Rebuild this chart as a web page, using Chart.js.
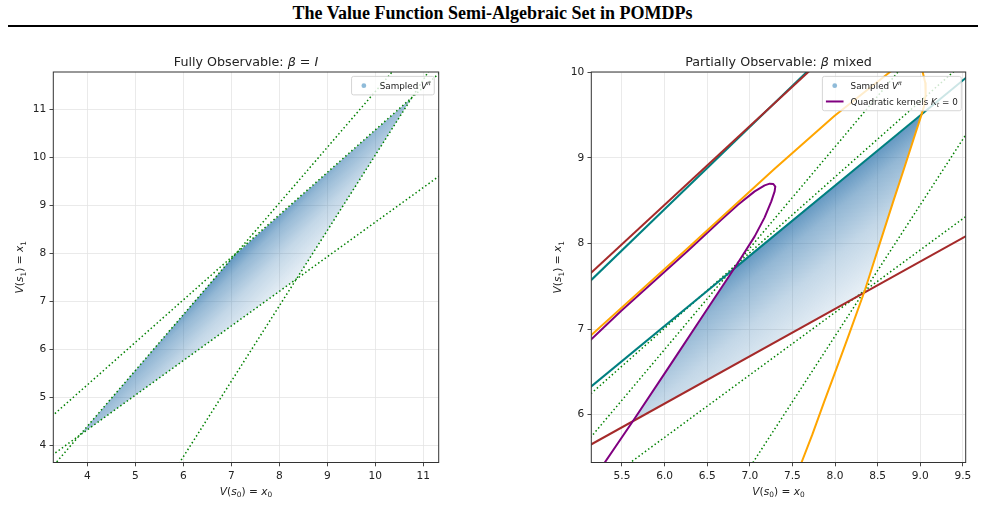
<!DOCTYPE html>
<html><head><meta charset="utf-8">
<script src="https://cdn.jsdelivr.net/npm/chart.js@4.4.1/dist/chart.umd.min.js"></script>
<style>
html,body{margin:0;padding:0;background:#fff;width:985px;height:523px;overflow:hidden;}
#title{position:absolute;left:0;top:3px;width:985px;text-align:center;font:bold 18px "Liberation Serif","Times New Roman",serif;color:#000;line-height:20px;}
#rule{position:absolute;left:8px;top:25px;width:970px;height:2px;background:#000;}
.wrap{position:absolute;top:40px;}
canvas{display:block;}
</style></head><body>
<div id="title">The Value Function Semi-Algebraic Set in POMDPs</div>
<div id="rule"></div>
<div class="wrap" style="left:0;width:480px;height:470px"><canvas id="c1" width="480" height="470"></canvas></div>
<div class="wrap" style="left:530px;width:455px;height:470px"><canvas id="c2" width="455" height="470"></canvas></div>
<script>
// ================= DATA =================
// ---- left panel: fully observable ----
const leftXTicks = [4, 5, 6, 7, 8, 9, 10, 11];
const leftXTickLabels = ['4', '5', '6', '7', '8', '9', '10', '11'];
const leftYTicks = [4, 5, 6, 7, 8, 9, 10, 11];
const leftYTickLabels = ['4', '5', '6', '7', '8', '9', '10', '11'];
const leftXRange = [3.292, 11.321];
const leftYRange = [3.641, 11.786];
// sampled value-function region (vertices A, B, C, D)
const leftCloudX = [3.836, 7.06, 10.76, 8.36, 3.836];
const leftCloudY = [4.204, 7.956, 11.25, 7.47, 4.204];
// dotted boundary hyperplanes (end points)
const leftLine1X = [3.2, 11.4];   const leftLine1Y = [4.55, 11.82];
const leftLine2X = [3.2, 11.4];   const leftLine2Y = [3.745, 9.665];
const leftLine3X = [3.2, 10.405]; const leftLine3Y = [3.464, 11.85];
const leftLine4X = [5.866, 11.143]; const leftLine4Y = [3.55, 11.85];

// ---- right panel: partially observable ----
const rightXTicks = [5.5, 6.0, 6.5, 7.0, 7.5, 8.0, 8.5, 9.0, 9.5];
const rightXTickLabels = ['5.5', '6.0', '6.5', '7.0', '7.5', '8.0', '8.5', '9.0', '9.5'];
const rightYTicks = [6, 7, 8, 9, 10];
const rightYTickLabels = ['6', '7', '8', '9', '10'];
const rightXRange = [5.140, 9.533];
const rightYRange = [5.441, 10.005];
// sampled region: A', purple edge, B', C', orange edge, D', A'
const rightCloudX = [5.629, 6.079, 6.470, 6.839, 9.012, 8.938, 8.812, 8.683, 8.558, 8.433, 8.342, 5.629];
const rightCloudY = [5.926, 6.600, 7.188, 7.743, 9.508, 9.272, 8.883, 8.493, 8.104, 7.714, 7.430, 5.926];
// straight linear kernels
const brownUpperX = [5.10, 7.735];  const brownUpperY = [7.623, 10.05];
const tealUpperX  = [5.10, 7.714];  const tealUpperY  = [7.536, 10.05];
const tealMidX    = [5.10, 9.58];   const tealMidY    = [6.298, 9.974];
const brownLowerX = [5.10, 9.58];   const brownLowerY = [5.631, 8.111];
// orange conic (two visible branches)
const orangeLeftX  = [5.10, 5.140, 6.274, 7.291, 7.995, 8.347, 8.644, 8.70];
const orangeLeftY  = [6.895, 6.931, 7.948, 8.875, 9.494, 9.771, 10.005, 10.05];
const orangeRightX = [9.017, 9.028, 9.059, 9.063, 9.043, 9.012, 8.938, 8.812, 8.683, 8.558, 8.433, 8.351, 8.163, 8.019, 7.874, 7.733, 7.604, 7.59];
const orangeRightY = [10.05, 10.005, 9.876, 9.740, 9.603, 9.498, 9.272, 8.883, 8.493, 8.104, 7.714, 7.457, 6.935, 6.545, 6.156, 5.766, 5.435, 5.40];
// purple quadratic kernel K_t = 0 (closed ellipse, partially visible)
const purpleX = [5.27, 5.629, 6.079, 6.470, 6.861, 7.057, 7.174, 7.252, 7.291, 7.299, 7.276, 7.233, 7.174, 7.057, 6.861, 6.665, 6.274, 5.883, 5.492, 5.140, 5.10];
const purpleY = [5.40, 5.926, 6.600, 7.188, 7.776, 8.084, 8.306, 8.493, 8.610, 8.665, 8.696, 8.700, 8.680, 8.610, 8.454, 8.279, 7.917, 7.566, 7.215, 6.880, 6.845];
// dotted boundary hyperplanes
const rightDot1X = [5.10, 9.44];  const rightDot1Y = [6.214, 10.052];
const rightDot2X = [5.10, 8.78];  const rightDot2Y = [5.696, 10.055];
const rightDot3X = [5.542, 9.58]; const rightDot3Y = [5.40, 8.349];
const rightDot4X = [7.010, 9.58]; const rightDot4Y = [5.40, 9.342];

// ================= DRAWING =================
const FONT = '"DejaVu Sans", "Noto Sans", sans-serif';
const TXT = '#222';
const pts = (xs, ys) => xs.map((x, i) => ({x: x, y: ys[i]}));

function richFont(p, size) {
  const s = (p.sub || p.sup) ? size * 0.7 : size;
  return (p.it ? 'italic ' : '') + s + 'px ' + FONT;
}
function measureRich(ctx, parts, size) {
  let w = 0;
  for (const p of parts) { ctx.font = richFont(p, size); w += ctx.measureText(p.t).width; }
  return w;
}
function drawRich(ctx, parts, x, y, size, align, rot) {
  ctx.save();
  ctx.translate(x, y);
  if (rot) ctx.rotate(rot);
  const w = measureRich(ctx, parts, size);
  let cx = align === 'center' ? -w / 2 : (align === 'right' ? -w : 0);
  ctx.textAlign = 'left'; ctx.textBaseline = 'alphabetic'; ctx.fillStyle = TXT;
  for (const p of parts) {
    ctx.font = richFont(p, size);
    const dy = p.sub ? size * 0.22 : (p.sup ? -size * 0.42 : 0);
    ctx.fillText(p.t, cx, dy);
    cx += ctx.measureText(p.t).width;
  }
  ctx.restore();
}

function cloudFill(xs, ys, iS, iP, iQ, iL, stops) {
  return function (c) {
    const chart = c.chart, ca = chart.chartArea;
    if (!ca) return 'rgba(31,119,180,0.3)';
    const sx = chart.scales.x, sy = chart.scales.y;
    const P = i => [sx.getPixelForValue(xs[i]), sy.getPixelForValue(ys[i])];
    const s = P(iS), p = P(iP), q = P(iQ), l = P(iL);
    const dx = q[0] - p[0], dy = q[1] - p[1], len = Math.hypot(dx, dy);
    let nx = -dy / len, ny = dx / len;
    let d = (l[0] - s[0]) * nx + (l[1] - s[1]) * ny;
    if (d < 0) { nx = -nx; ny = -ny; d = -d; }
    const g = chart.ctx.createLinearGradient(s[0], s[1], s[0] + nx * d, s[1] + ny * d);
    stops.forEach(st => g.addColorStop(st[0], st[1]));
    return g;
  };
}

function lineDS(xs, ys, color, width, order, dash) {
  return {
    data: pts(xs, ys), showLine: true, borderColor: color, borderWidth: width,
    pointRadius: 0, pointHoverRadius: 0, fill: false, tension: 0, order: order,
    borderDash: dash || [], borderCapStyle: 'butt', borderJoinStyle: 'round'
  };
}
function cloudDS(xs, ys, bg) {
  return {
    data: pts(xs, ys), showLine: true, borderWidth: 0, borderColor: 'rgba(0,0,0,0)',
    backgroundColor: bg, fill: 'shape', pointRadius: 0, pointHoverRadius: 0, order: 20, tension: 0
  };
}

function makeScale(range, ticks, labels, axis, size) {
  return {
    type: 'linear', min: range[0], max: range[1],
    afterBuildTicks: s => { s.ticks = ticks.map(v => ({value: v})); },
    ticks: {
      autoSkip: false, maxRotation: 0, minRotation: 0, padding: 3.2, color: TXT,
      font: {family: FONT, size: 10.6},
      callback: (v, i) => labels[i]
    },
    grid: {color: '#e4e4e4', lineWidth: 0.8, tickColor: '#333', tickLength: 3.8, tickWidth: 0.9, drawTicks: true},
    border: {display: false},
    afterFit: s => { if (axis === 'x') s.height = size; else s.width = size; }
  };
}

const decorPlugin = {
  id: 'decor',
  afterDatasetsDraw(chart) {
    const ctx = chart.ctx, ca = chart.chartArea;
    ctx.save();
    ctx.strokeStyle = '#333'; ctx.lineWidth = 1;
    ctx.strokeRect(ca.left, ca.top, ca.right - ca.left, ca.bottom - ca.top);
    ctx.restore();
  },
  afterDraw(chart) {
    const ctx = chart.ctx, ca = chart.chartArea, o = chart.options.plugins.decor;
    const cx = (ca.left + ca.right) / 2, cy = (ca.top + ca.bottom) / 2;
    drawRich(ctx, o.title, cx, ca.top - 6, 12.7, 'center');
    drawRich(ctx, o.xlabel, cx, ca.bottom + 32.3, 10.6, 'center');
    drawRich(ctx, o.ylabel, ca.left - 30, cy, 10.6, 'center', -Math.PI / 2);
    // legend
    const fs = 8.8, pad = 0.4 * fs, hl = 2 * fs, htp = 0.8 * fs, ls = 0.5 * fs, rowH = 1.3 * fs;
    const ents = o.legend;
    const tw = Math.max.apply(null, ents.map(e => measureRich(ctx, e.parts, fs)));
    const w = pad * 2 + hl + htp + tw, h = pad * 2 + rowH * ents.length + ls * (ents.length - 1);
    const right = ca.right - 0.5 * fs, top = ca.top + 0.5 * fs, left = right - w, r = 2;
    ctx.save();
    ctx.beginPath();
    ctx.moveTo(left + r, top); ctx.lineTo(right - r, top); ctx.quadraticCurveTo(right, top, right, top + r);
    ctx.lineTo(right, top + h - r); ctx.quadraticCurveTo(right, top + h, right - r, top + h);
    ctx.lineTo(left + r, top + h); ctx.quadraticCurveTo(left, top + h, left, top + h - r);
    ctx.lineTo(left, top + r); ctx.quadraticCurveTo(left, top, left + r, top);
    ctx.closePath();
    ctx.fillStyle = 'rgba(255,255,255,0.8)'; ctx.fill();
    ctx.strokeStyle = '#d0d0d0'; ctx.lineWidth = 0.9; ctx.stroke();
    ents.forEach((e, i) => {
      const yc = top + pad + rowH * (i + 0.5) + ls * i, hx = left + pad;
      if (e.kind === 'dot') {
        ctx.beginPath(); ctx.arc(hx + hl / 2, yc, 2.4, 0, Math.PI * 2);
        ctx.fillStyle = 'rgba(31,119,180,0.5)'; ctx.fill();
      } else {
        ctx.beginPath(); ctx.moveTo(hx, yc); ctx.lineTo(hx + hl, yc);
        ctx.strokeStyle = e.color; ctx.lineWidth = 2; ctx.stroke();
      }
      drawRich(ctx, e.parts, hx + hl + htp, yc + 0.36 * fs, fs, 'left');
    });
    ctx.restore();
  }
};

const sampledLegend = {kind: 'dot', parts: [{t: 'Sampled '}, {t: 'V', it: 1}, {t: 'π', it: 1, sup: 1}]};
const xLabel = [{t: 'V', it: 1}, {t: '('}, {t: 's', it: 1}, {t: '0', sub: 1}, {t: ') = '}, {t: 'x', it: 1}, {t: '0', sub: 1}];
const yLabel = [{t: 'V', it: 1}, {t: '('}, {t: 's', it: 1}, {t: '1', sub: 1}, {t: ') = '}, {t: 'x', it: 1}, {t: '1', sub: 1}];

function baseOptions(W, H, areaLeft, areaRight, xr, xt, xl, yr, yt, yl, decor) {
  return {
    responsive: false, animation: false, events: [], devicePixelRatio: 1,
    layout: {padding: {top: 32, left: 0, right: W - areaRight, bottom: 0}},
    scales: {
      x: makeScale(xr, xt, xl, 'x', H - 422.5),
      y: makeScale(yr, yt, yl, 'y', areaLeft)
    },
    plugins: {legend: {display: false}, tooltip: {enabled: false}, title: {display: false}, decor: decor}
  };
}

const GREEN = '#008000', DOT = [1.5, 2.5];
const cloudStops = [[0, 'rgba(40,112,170,0.72)'], [0.2, 'rgba(40,112,170,0.5)'], [0.55, 'rgba(40,112,170,0.28)'], [1, 'rgba(40,112,170,0.1)']];

new Chart(document.getElementById('c1'), {
  type: 'scatter',
  data: {datasets: [
    cloudDS(leftCloudX, leftCloudY, cloudFill(leftCloudX, leftCloudY, 1, 0, 2, 3, cloudStops)),
    lineDS(leftLine1X, leftLine1Y, GREEN, 1.5, 5, DOT),
    lineDS(leftLine2X, leftLine2Y, GREEN, 1.5, 5, DOT),
    lineDS(leftLine3X, leftLine3Y, GREEN, 1.5, 5, DOT),
    lineDS(leftLine4X, leftLine4Y, GREEN, 1.5, 5, DOT)
  ]},
  options: baseOptions(480, 470, 53.3, 438.7, leftXRange, leftXTicks, leftXTickLabels, leftYRange, leftYTicks, leftYTickLabels, {
    title: [{t: 'Fully Observable: '}, {t: 'β', it: 1}, {t: ' = '}, {t: 'I', it: 1}],
    xlabel: xLabel, ylabel: yLabel, legend: [sampledLegend]
  }),
  plugins: [decorPlugin]
});

new Chart(document.getElementById('c2'), {
  type: 'scatter',
  data: {datasets: [
    cloudDS(rightCloudX, rightCloudY, cloudFill(rightCloudX, rightCloudY, 3, 3, 4, 10, cloudStops)),
    lineDS(rightDot1X, rightDot1Y, GREEN, 1.5, 8, DOT),
    lineDS(rightDot2X, rightDot2Y, GREEN, 1.5, 8, DOT),
    lineDS(rightDot3X, rightDot3Y, GREEN, 1.5, 8, DOT),
    lineDS(rightDot4X, rightDot4Y, GREEN, 1.5, 8, DOT),
    lineDS(tealUpperX, tealUpperY, '#008080', 2, 6),
    lineDS(tealMidX, tealMidY, '#008080', 2, 6),
    lineDS(brownUpperX, brownUpperY, '#a52a2a', 2, 5),
    lineDS(brownLowerX, brownLowerY, '#a52a2a', 2, 5),
    lineDS(purpleX, purpleY, '#800080', 2, 4),
    lineDS(orangeLeftX, orangeLeftY, '#ffa500', 2, 3),
    lineDS(orangeRightX, orangeRightY, '#ffa500', 2, 3)
  ]},
  options: baseOptions(455, 470, 61.3, 435.7, rightXRange, rightXTicks, rightXTickLabels, rightYRange, rightYTicks, rightYTickLabels, {
    title: [{t: 'Partially Observable: '}, {t: 'β', it: 1}, {t: ' mixed'}],
    xlabel: xLabel, ylabel: yLabel,
    legend: [sampledLegend, {kind: 'line', color: '#800080', parts: [{t: 'Quadratic kernels '}, {t: 'K', it: 1}, {t: 't', it: 1, sub: 1}, {t: ' = 0'}]}]
  }),
  plugins: [decorPlugin]
});
</script>
</body></html>
